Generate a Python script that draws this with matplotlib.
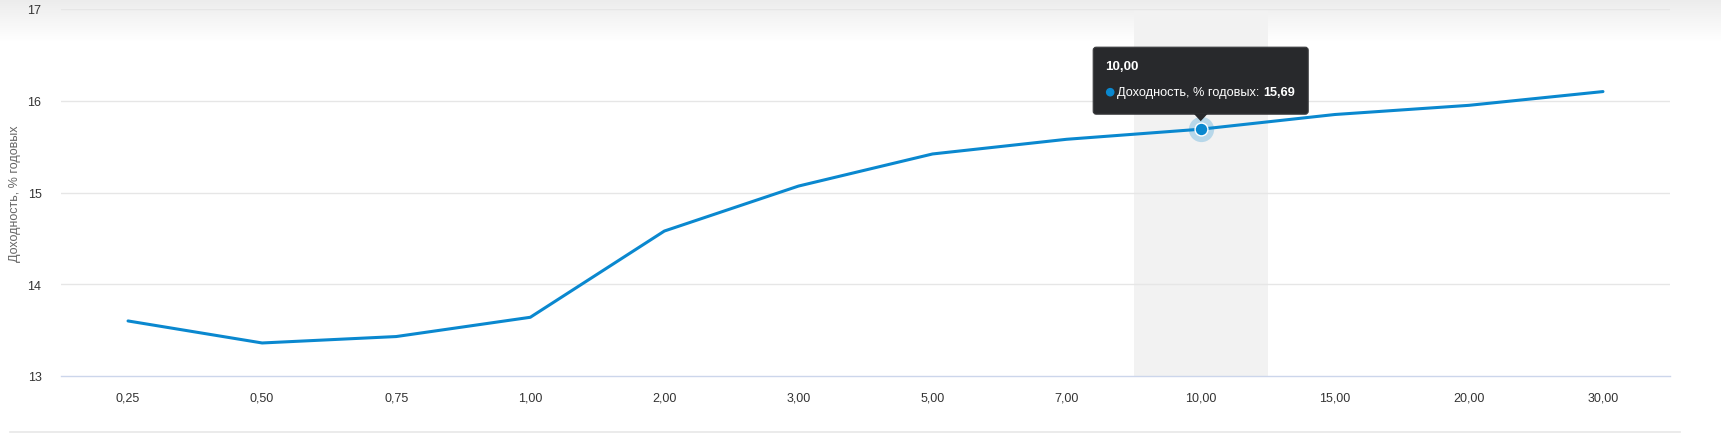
import numpy as np
import matplotlib
matplotlib.use("Agg")
import matplotlib.pyplot as plt
import matplotlib.patches as mpatches
from matplotlib.transforms import IdentityTransform

plt.rcParams['font.family'] = ['Liberation Sans', 'DejaVu Sans']

# data
maturities = ['0,25', '0,50', '0,75', '1,00', '2,00', '3,00',
              '5,00', '7,00', '10,00', '15,00', '20,00', '30,00']
yields = [13.60, 13.36, 13.43, 13.64, 14.58, 15.07,
          15.42, 15.58, 15.69, 15.85, 15.95, 16.10]
y_ticks = [13, 14, 15, 16, 17]
hover_idx = 8
series_name = 'Доходность, % годовых'

W, H = 1721, 439
LINE = '#0a88cf'
TIP_BG = '#28292c'

fig = plt.figure(figsize=(W / 100, H / 100), dpi=100)
fig.patch.set_facecolor('white')

# soft grey gradient at the top of the frame
bg = fig.add_axes([0, 1 - 42 / H, 1, 42 / H], zorder=0)
grad = np.linspace(0.925, 1.0, 64).reshape(-1, 1)
bg.imshow(np.dstack([grad, grad, grad]), aspect='auto', extent=[0, 1, 0, 1])
bg.axis('off')

ax = fig.add_axes([61 / W, 1 - 377 / H, (1670 - 61) / W, (377 - 10) / H], zorder=1)
ax.patch.set_alpha(0)
x = np.arange(len(maturities))

ax.set_xlim(-0.5, len(maturities) - 0.5)
ax.set_ylim(y_ticks[0], y_ticks[-1])

# hover band
ax.axvspan(hover_idx - 0.5, hover_idx + 0.5, color='#f2f2f2', zorder=0, lw=0)

for v in y_ticks[1:]:
    ax.axhline(v, color='#e6e6e6', lw=1, zorder=1)

ax.plot(x, yields, color=LINE, lw=2.2, zorder=3, solid_joinstyle='round',
        solid_capstyle='round')

# hovered point with halo
ax.scatter([x[hover_idx]], [yields[hover_idx]], s=330, color=LINE, alpha=0.25,
           lw=0, zorder=4)
ax.scatter([x[hover_idx]], [yields[hover_idx]], s=85, color=LINE,
           edgecolors='white', linewidths=1, zorder=5)

for s in ['top', 'right', 'left']:
    ax.spines[s].set_visible(False)
ax.spines['bottom'].set_color('#ccd6eb')
ax.spines['bottom'].set_linewidth(1)

ax.set_xticks(x)
ax.set_xticklabels(maturities)
ax.set_yticks(y_ticks)
ax.tick_params(axis='x', length=0, pad=11, labelsize=9, colors='#333333')
ax.tick_params(axis='y', length=0, pad=14, labelsize=9, colors='#333333')
ax.set_ylabel(series_name, fontsize=9, color='#666666')
ax.yaxis.set_label_coords((21 - 61) / (1670 - 61), 0.5)

# bottom separator line
fig.add_artist(plt.Line2D([10 / W, 1680 / W], [1 - 433 / H, 1 - 433 / H],
                          color='#e8e8e8', lw=1.2))

# tooltip (pixel coordinates anchored to the hovered point)
fig.canvas.draw()
px, py = ax.transData.transform((x[hover_idx], yields[hover_idx]))
ident = IdentityTransform()
bw, bh = 215, 67
bx0 = px - bw / 2
by0 = py + 15
box = mpatches.FancyBboxPatch((bx0, by0), bw, bh,
                              boxstyle='round,pad=0,rounding_size=3',
                              facecolor=TIP_BG, edgecolor='#3a3b3e', lw=0.8,
                              transform=ident, zorder=10)
fig.add_artist(box)
tri = mpatches.Polygon([[px - 7, by0 + 0.5], [px + 7, by0 + 0.5], [px, by0 - 7]],
                       closed=True, facecolor=TIP_BG, edgecolor='none',
                       transform=ident, zorder=10)
fig.add_artist(tri)

fig.text(bx0 + 12, by0 + bh - 19, maturities[hover_idx], transform=ident,
         color='white', fontsize=9.6, fontweight='bold', va='center', zorder=11)
fig.add_artist(mpatches.Circle((bx0 + 17, by0 + bh - 45), 3.6, color=LINE,
                               transform=ident, zorder=11))
t1 = fig.text(bx0 + 24, by0 + bh - 45, series_name + ':', transform=ident,
              color='white', fontsize=9.2, va='center', zorder=11)
fig.canvas.draw()
ext = t1.get_window_extent()
fig.text(ext.x1 + 4, by0 + bh - 45, f'{yields[hover_idx]:.2f}'.replace('.', ','),
         transform=ident, color='white', fontsize=9.2, fontweight='bold',
         va='center', zorder=11)

fig.savefig('out.png', dpi=100)
